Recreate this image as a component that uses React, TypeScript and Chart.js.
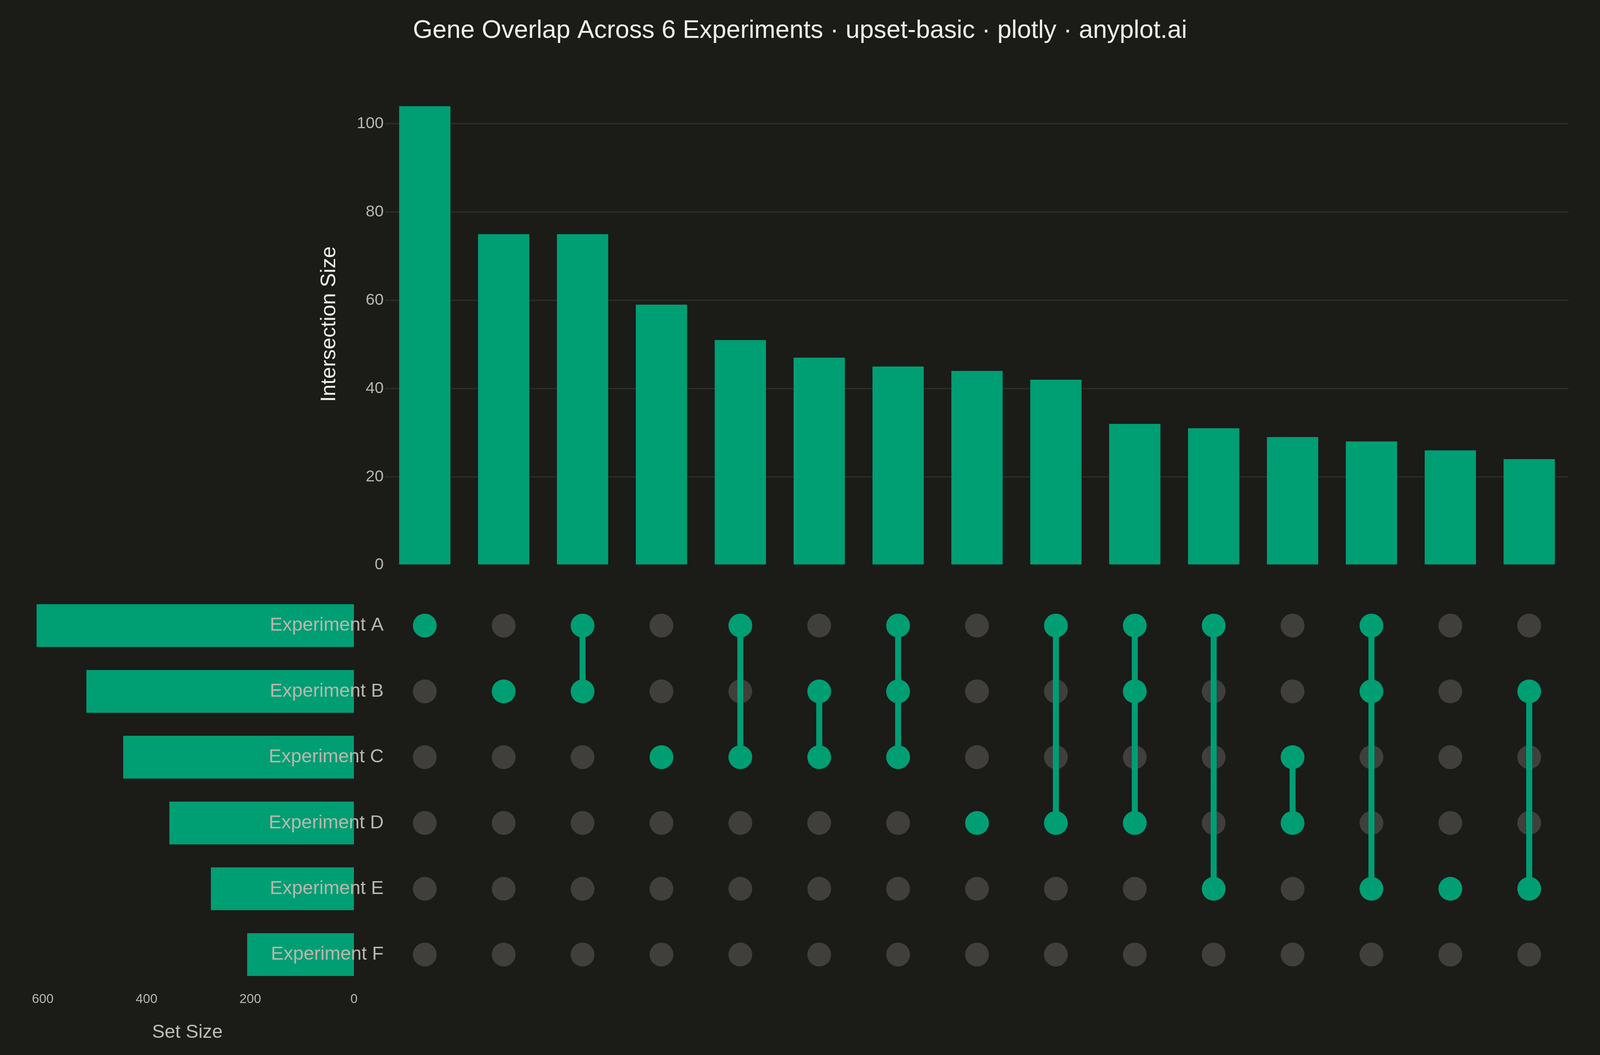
import React, { useEffect, useRef } from "react";
import { Chart, registerables } from "chart.js";

Chart.register(...registerables);

// ---------------- data ----------------
const TITLE = "Gene Overlap Across 6 Experiments · upset-basic · plotly · anyplot.ai";
const SET_NAMES = ["Experiment A", "Experiment B", "Experiment C", "Experiment D", "Experiment E", "Experiment F"];
const SET_SIZES = [612, 516, 445, 356, 276, 206];
const INTERSECTION_SIZES = [104, 75, 75, 59, 51, 47, 45, 44, 42, 32, 31, 29, 28, 26, 24];
const INTERSECTION_MEMBERS = [
  [0], [1], [0, 1], [2], [0, 2], [1, 2], [0, 1, 2], [3], [0, 3], [0, 1, 3], [0, 4], [2, 3], [0, 1, 4], [4], [1, 4],
];
const INTERSECTION_TICKS = [0, 20, 40, 60, 80, 100];
const SET_SIZE_TICKS = [0, 200, 400, 600];

// ---------------- style ----------------
const BG = "#1b1b18";
const GREEN = "#009e73";
const INACTIVE = "#403f3b";
const GRID = "#2e2e2a";
const TICK = "#b8b7af";
const TEXT = "#f0efe8";
const FONT = "'Liberation Sans', Arial, Helvetica, sans-serif";

Chart.defaults.font.family = FONT;

// design space is 4800 x 2700; mapped onto the real viewport
function frame() {
  const W = (typeof window !== "undefined" && window.innerWidth) || 4800;
  const H = (typeof window !== "undefined" && window.innerHeight) || 2700;
  const sx = W / 4800;
  const sy = H / 2700;
  const fs = Math.min(sx, sy) * 0.35 + Math.sqrt(sx * sy) * 0.65;
  return { W, H, sx, sy, fs };
}

export default function App() {
  const topRef = useRef<HTMLCanvasElement | null>(null);
  const matRef = useRef<HTMLCanvasElement | null>(null);
  const setRef = useRef<HTMLCanvasElement | null>(null);
  const { W, H, sx, sy, fs } = frame();
  const X = (v: number) => v * sx;
  const Y = (v: number) => v * sy;

  const topH = Math.round(Y(1500));
  const matTop = Math.round(Y(1480));
  const matH = Math.round(Y(1100));
  const setW = Math.round(X(1100));
  const setH = H - matTop;

  useEffect(() => {
    const labels = INTERSECTION_MEMBERS.map((m) => m.map((i) => SET_NAMES[i].slice(-1)).join(" ∩ "));

    // ---- intersection size bar chart ----
    const titleSize = 72 * fs;
    const titlePadTop = Y(79) - 0.6 * titleSize;
    const titlePadBottom = Y(213) - titlePadTop - 1.2 * titleSize;
    const axisTitleSize = 60 * fs;

    const top = new Chart(topRef.current as HTMLCanvasElement, {
      type: "bar",
      data: {
        labels,
        datasets: [
          { data: INTERSECTION_SIZES, backgroundColor: GREEN, borderWidth: 0, barPercentage: 0.65, categoryPercentage: 1 },
        ],
      },
      options: {
        responsive: false,
        animation: false,
        devicePixelRatio: 1,
        layout: { padding: { left: X(94), right: X(94), top: 0, bottom: topH - Y(1446) } },
        plugins: {
          legend: { display: false },
          tooltip: { enabled: false },
          title: {
            display: true,
            text: TITLE,
            color: TEXT,
            font: { family: FONT, size: titleSize, weight: "normal" },
            padding: { top: titlePadTop, bottom: titlePadBottom },
          },
        },
        scales: {
          x: { display: false, offset: true },
          y: {
            min: 0,
            max: 109.2,
            position: "left",
            border: { display: false },
            grid: {
              color: (c: any) => (c.tick && c.tick.value === 0 ? "rgba(0,0,0,0)" : GRID),
              lineWidth: 3,
              drawTicks: false,
            },
            ticks: { color: TICK, font: { family: FONT, size: 46 * fs }, padding: X(5), includeBounds: false },
            afterBuildTicks: (s: any) => {
              s.ticks = INTERSECTION_TICKS.map((v) => ({ value: v }));
            },
            afterFit: (s: any) => {
              s.width = X(1062);
            },
            title: {
              display: true,
              text: "Intersection Size",
              color: TEXT,
              font: { family: FONT, size: axisTitleSize },
              padding: { top: X(987.5) - X(94) - 0.6 * axisTitleSize, bottom: 0 },
            },
          },
        },
      } as any,
    });

    // ---- membership matrix ----
    const active: any[] = [];
    const inactive: any[] = [];
    INTERSECTION_MEMBERS.forEach((m, col) => {
      SET_NAMES.forEach((name, row) => {
        (m.includes(row) ? active : inactive).push({ x: col, y: name });
      });
    });
    const dotR = 33 * Math.sqrt(sx * sy);
    const lineSets = INTERSECTION_MEMBERS.map((m, col) => ({ m, col }))
      .filter(({ m }) => m.length > 1)
      .map(({ m, col }) => ({
        data: [
          { x: col, y: SET_NAMES[Math.min(...m)] },
          { x: col, y: SET_NAMES[Math.max(...m)] },
        ],
        showLine: true,
        borderColor: GREEN,
        borderWidth: 18 * sx,
        borderCapStyle: "butt",
        pointRadius: 0,
        order: 1,
      }));

    const mat = new Chart(matRef.current as HTMLCanvasElement, {
      type: "scatter",
      data: {
        datasets: [
          { data: active, pointRadius: dotR, pointBackgroundColor: GREEN, pointBorderWidth: 0, order: 0 },
          ...lineSets,
          { data: inactive, pointRadius: dotR, pointBackgroundColor: INACTIVE, pointBorderWidth: 0, order: 2 },
        ] as any,
      },
      options: {
        responsive: false,
        animation: false,
        devicePixelRatio: 1,
        layout: {
          padding: { left: X(94), right: X(94), top: Y(1516.8) - matTop, bottom: matTop + matH - Y(2527.2) },
        },
        plugins: { legend: { display: false }, tooltip: { enabled: false } },
        scales: {
          x: { type: "linear", min: -0.5, max: 14.5, display: false },
          y: {
            type: "category",
            labels: SET_NAMES,
            offset: true,
            position: "left",
            grid: { display: false, drawTicks: false },
            border: { display: false },
            ticks: { color: TICK, font: { family: FONT, size: 54 * fs }, padding: X(5) },
            afterFit: (s: any) => {
              s.width = X(1062);
            },
          },
        },
      } as any,
    });

    // ---- set size bars ----
    const tickSize = 37 * fs;
    const setTitleSize = 54 * fs;
    const axisH = Y(150);
    const chartBottom = Y(2527.2) - matTop;
    const setPadBottom = setH - chartBottom - axisH;
    const axisBottom = chartBottom + axisH;
    const sets = new Chart(setRef.current as HTMLCanvasElement, {
      type: "bar",
      data: {
        labels: SET_NAMES,
        datasets: [
          { data: SET_SIZES, backgroundColor: GREEN, borderWidth: 0, barPercentage: 0.65, categoryPercentage: 1 },
        ],
      },
      options: {
        indexAxis: "y",
        responsive: false,
        animation: false,
        devicePixelRatio: 1,
        layout: { padding: { left: X(62), right: setW - X(1062), top: Y(1516.8) - matTop, bottom: setPadBottom } },
        plugins: { legend: { display: false }, tooltip: { enabled: false } },
        scales: {
          x: {
            reverse: true,
            min: 0,
            max: 642.7,
            position: "bottom",
            grid: { display: false, drawTicks: false },
            border: { display: false },
            ticks: {
              color: TICK,
              font: { family: FONT, size: tickSize },
              padding: Y(30.3) - 0.6 * tickSize,
              maxRotation: 0,
              includeBounds: false,
            },
            afterBuildTicks: (s: any) => {
              s.ticks = SET_SIZE_TICKS.map((v) => ({ value: v }));
            },
            afterFit: (s: any) => {
              s.height = axisH;
            },
            title: {
              display: true,
              text: "Set Size",
              color: "#bdbcb4",
              font: { family: FONT, size: setTitleSize },
              padding: { top: 0, bottom: axisBottom - (Y(2642.5) - matTop) - 0.6 * setTitleSize },
            },
          },
          y: { display: false, offset: true },
        },
      } as any,
    });

    return () => {
      top.destroy();
      mat.destroy();
      sets.destroy();
    };
  }, []);

  return (
    <div style={{ position: "fixed", left: 0, top: 0, width: W, height: H, background: BG, overflow: "hidden" }}>
      <canvas
        ref={setRef}
        width={setW}
        height={setH}
        style={{ position: "absolute", left: 0, top: matTop, width: setW, height: setH }}
      />
      <canvas
        ref={topRef}
        width={W}
        height={topH}
        style={{ position: "absolute", left: 0, top: 0, width: W, height: topH }}
      />
      <canvas
        ref={matRef}
        width={W}
        height={matH}
        style={{ position: "absolute", left: 0, top: matTop, width: W, height: matH }}
      />
    </div>
  );
}
